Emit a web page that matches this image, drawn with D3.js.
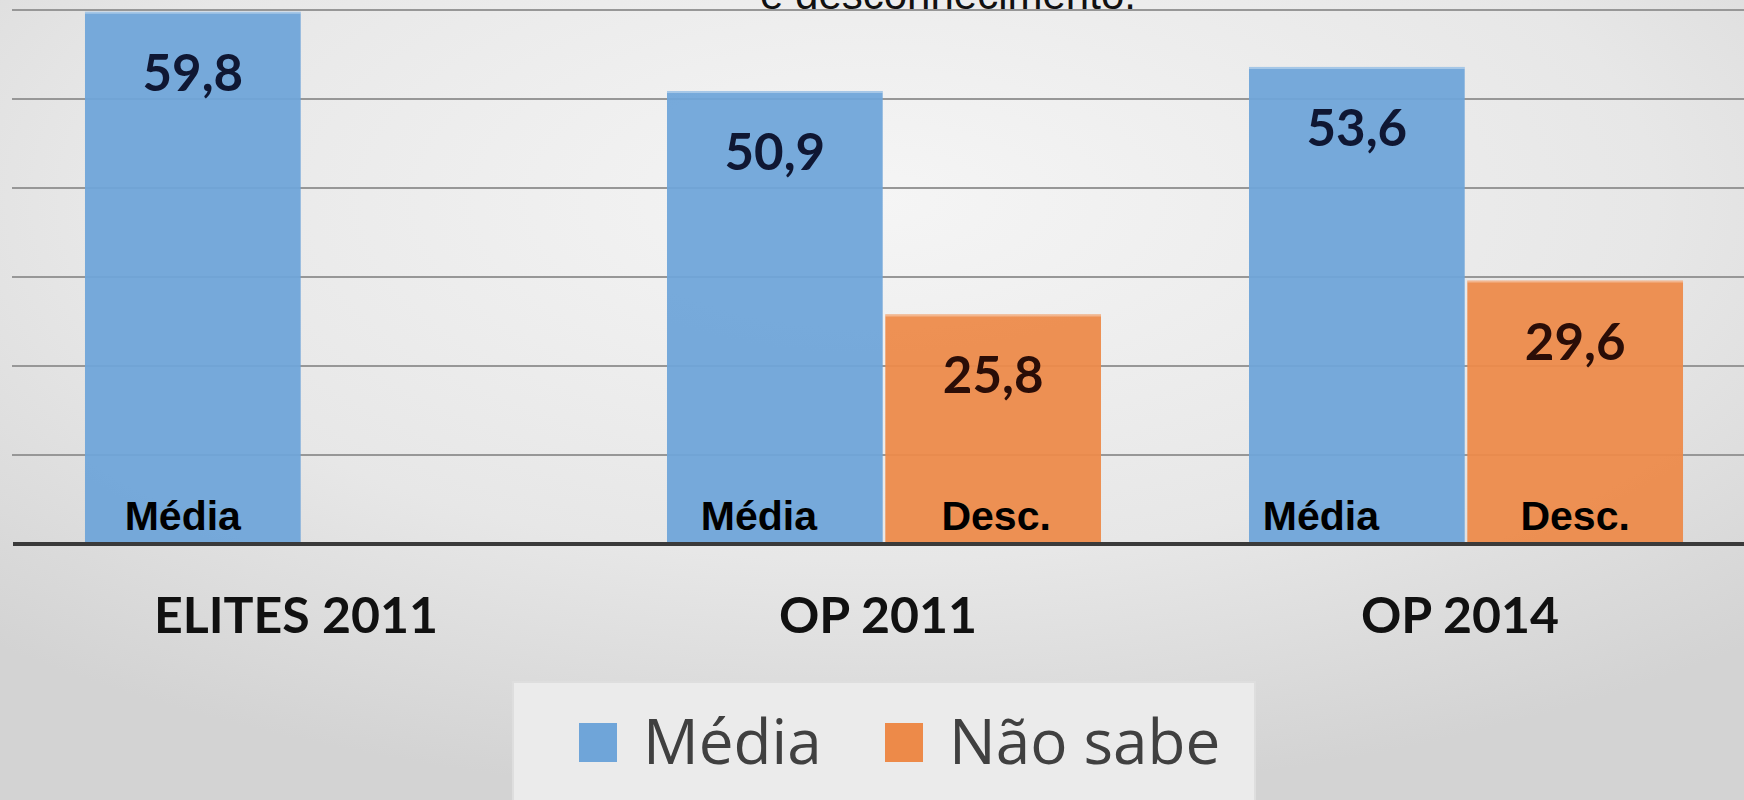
<html>
<head>
<meta charset="utf-8">
<script src="https://d3js.org/d3.v7.min.js"></script>
<style>
  body { margin: 0; overflow: hidden; }
  .value-label { font-family: Lato, sans-serif; font-weight: bold; font-size: 51px; }
  .tag-label { font-family: "Liberation Sans", Arial, sans-serif; font-weight: bold; font-size: 41px; fill: #000; }
  .cat-label { font-family: Lato, sans-serif; font-weight: bold; font-size: 50px; fill: #111; }
  .legend-text { font-family: "Open Sans", sans-serif; font-size: 62px; fill: #404040; }
  .title-text { font-family: "Liberation Sans", Arial, sans-serif; font-size: 42px; fill: #111; }
</style>
</head>
<body>
<div id="chart"></div>
<script>
// data
const categories = ["ELITES 2011", "OP 2011", "OP 2014"];
const seriesNames = ["Média", "Não sabe"];
const mediaValues = [59.8, 50.9, 53.6];
const naoSabeValues = [null, 25.8, 29.6];
const tagTexts = ["Média", "Desc."];
const titleText = "e desconhecimento.";

// small manual nudges of the in-bar tags (they were placed by hand)
const tagShift = [[-10, 0], [-16, 3], [-36, 0]];

const colors = { "Média": "#6fa5d9", "Não sabe": "#ed8a49" };
const labelColors = { "Média": "#0f1733", "Não sabe": "#2a0d07" };

const width = 1744, height = 800;
const svg = d3.select("#chart").append("svg")
    .attr("width", width)
    .attr("height", height);

// background gradient
const defs = svg.append("defs");
const grad = defs.append("radialGradient")
    .attr("id", "bg")
    .attr("cx", "50%").attr("cy", "25%").attr("r", "75%");
grad.append("stop").attr("offset", "0%").attr("stop-color", "#f5f5f5");
grad.append("stop").attr("offset", "60%").attr("stop-color", "#e7e7e7");
grad.append("stop").attr("offset", "100%").attr("stop-color", "#d3d3d3");
svg.append("rect").attr("width", width).attr("height", height).attr("fill", "url(#bg)");

// scales
const x = d3.scaleBand()
    .domain(categories)
    .range([12, 1756])
    .paddingInner(0.2543)
    .paddingOuter(0.1254);
const xs = d3.scaleBand()
    .domain(seriesNames)
    .range([0, x.bandwidth()])
    .paddingInner(0.012);
const y = d3.scaleLinear()
    .domain([0, 60])
    .range([544, 10]);

// gridlines
svg.append("g")
    .selectAll("line")
    .data(y.ticks(6).filter(d => d > 0))
    .join("line")
    .attr("x1", 12).attr("x2", width)
    .attr("y1", d => y(d)).attr("y2", d => y(d))
    .attr("stroke", "#979797")
    .attr("stroke-width", 2);

// title line, cut at the top like the source
svg.append("text")
    .attr("class", "title-text")
    .attr("x", 760)
    .attr("y", 9)
    .text(titleText);

// bars
const rows = [];
categories.forEach((c, i) => {
    rows.push({ cat: c, i: i, s: "Média", v: mediaValues[i], tag: tagTexts[0], k: 0 });
    if (naoSabeValues[i] != null)
        rows.push({ cat: c, i: i, s: "Não sabe", v: naoSabeValues[i], tag: tagTexts[1], k: 1 });
});

const bars = svg.append("g");
bars.selectAll("rect")
    .data(rows)
    .join("rect")
    .attr("x", d => x(d.cat) + xs(d.s))
    .attr("y", d => y(d.v))
    .attr("width", xs.bandwidth())
    .attr("height", d => y(0) - y(d.v))
    .attr("fill", d => colors[d.s])
    .attr("fill-opacity", 0.94);

// light top edge of bars
bars.selectAll("line")
    .data(rows)
    .join("line")
    .attr("x1", d => x(d.cat) + xs(d.s))
    .attr("x2", d => x(d.cat) + xs(d.s) + xs.bandwidth())
    .attr("y1", d => y(d.v) + 1).attr("y2", d => y(d.v) + 1)
    .attr("stroke", "#ffffff")
    .attr("stroke-opacity", 0.35)
    .attr("stroke-width", 2);

// value labels
svg.append("g")
    .selectAll("text")
    .data(rows)
    .join("text")
    .attr("class", "value-label")
    .attr("x", d => x(d.cat) + xs(d.s) + xs.bandwidth() / 2)
    .attr("y", d => y(d.v) + 79)
    .attr("text-anchor", "middle")
    .attr("fill", d => labelColors[d.s])
    .text(d => d.v.toFixed(1).replace(".", ","));

// in-bar tags
svg.append("g")
    .selectAll("text")
    .data(rows)
    .join("text")
    .attr("class", "tag-label")
    .attr("x", d => x(d.cat) + xs(d.s) + xs.bandwidth() / 2 + tagShift[d.i][d.k])
    .attr("y", 530)
    .attr("text-anchor", "middle")
    .text(d => d.tag);

// axis line
svg.append("line")
    .attr("x1", 13).attr("x2", width)
    .attr("y1", y(0)).attr("y2", y(0))
    .attr("stroke", "#3a3a3a")
    .attr("stroke-width", 4);

// category labels
svg.append("g")
    .selectAll("text")
    .data(categories)
    .join("text")
    .attr("class", "cat-label")
    .attr("x", d => x(d) + x.bandwidth() / 2 - 6)
    .attr("y", 633)
    .attr("text-anchor", "middle")
    .text(d => d);

// legend
const legend = svg.append("g");
legend.append("rect")
    .attr("x", 513).attr("y", 682)
    .attr("width", 742).attr("height", 130)
    .attr("fill", "#ebebeb")
    .attr("stroke", "#dedede")
    .attr("stroke-width", 2);
const legendX = [579, 885];
seriesNames.forEach((s, i) => {
    legend.append("rect")
        .attr("x", legendX[i]).attr("y", 723)
        .attr("width", 38).attr("height", 39)
        .attr("fill", colors[s]);
    legend.append("text")
        .attr("class", "legend-text")
        .attr("x", legendX[i] + 64)
        .attr("y", 764)
        .text(s);
});
</script>
</body>
</html>
